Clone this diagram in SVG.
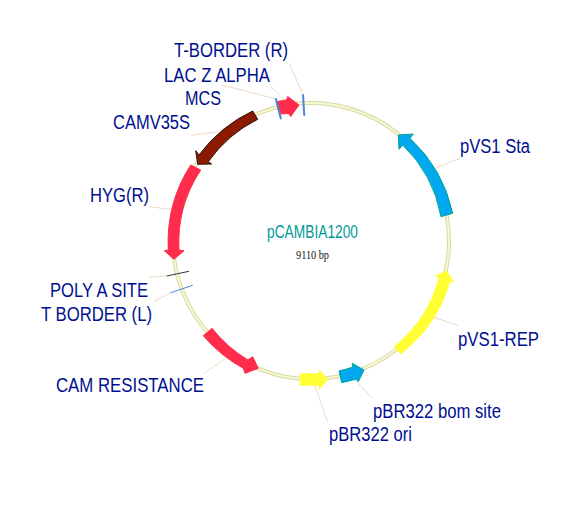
<svg xmlns="http://www.w3.org/2000/svg" width="572" height="508" viewBox="0 0 572 508">
<style>
.l{font-family:"Liberation Sans",Arial,sans-serif;font-size:20px;fill:#000f8f}
.ld{stroke:#f0d9c2;stroke-width:1;fill:none}
.red{fill:#ff2d4b;stroke:#ff2d4b;stroke-width:1}
.yel{fill:#ffff33;stroke:#ffff33;stroke-width:1}
.blu{fill:#00a8f0;stroke:#00a58c;stroke-width:1}
</style>
<rect width="572" height="508" fill="#fff"/>
<g id="plasmid-ring" fill="none">
<circle cx="311" cy="241" r="138" stroke="#d9d9a6" stroke-width="4"/>
<circle cx="311" cy="241" r="138" stroke="#f8f8d2" stroke-width="2"/>
</g>
<g id="connectors">
<path class="ld" d="M289.3 63.3L302.3 93.3"/>
<path class="ld" d="M271 86.7L285 100"/>
<path class="ld" d="M221.7 85L276.7 99"/>
<path class="ld" d="M191.7 135.3L218.3 131.7"/>
<path class="ld" d="M149.3 206.7L170 209.3"/>
<path class="ld" d="M149.3 277.3L166.7 276"/>
<path class="ld" d="M153.3 301.7L170.7 292.7"/>
<path class="ld" d="M204.3 373.3L226.7 357.3"/>
<path class="ld" d="M327.7 422.3L315 386"/>
<path class="ld" d="M372 397.7L355.7 380.7"/>
<path class="ld" d="M458.3 325.7L434 317.3"/>
<path class="ld" d="M460 158.3L435.7 167.7"/>
</g>
<g id="lac-z-alpha"><path class="red" d="M277 101.5L286.5 100L287.7 96.5L299 105L290.7 116.5L288.5 113.5L280 114Z"/><text class="l" x="164" y="82" textLength="106" lengthAdjust="spacingAndGlyphs">LAC Z ALPHA</text></g>
<g id="t-border-r"><path d="M303 94.3L304.3 115.7" stroke="#4a86d8" stroke-width="2" fill="none"/><text class="l" x="174" y="57" textLength="114" lengthAdjust="spacingAndGlyphs">T-BORDER (R)</text></g>
<g id="mcs"><path d="M275.7 98.3L281 119.3" stroke="#4a86d8" stroke-width="2" fill="none"/><text class="l" x="185" y="105" textLength="36" lengthAdjust="spacingAndGlyphs">MCS</text></g>
<g id="camv35s"><path d="M252.7 111L257.7 119.3A132 132 0 0 0 208.3 161.7L211.7 164L197.7 164.3L195.7 150.7L199 155A143 143 0 0 1 252.7 111Z" fill="#8b1a00" stroke="#2a1208" stroke-width="1"/><text class="l" x="113" y="129" textLength="77" lengthAdjust="spacingAndGlyphs">CAMV35S</text></g>
<g id="hyg-r"><path class="red" d="M190.7 165L200.7 170A132 132 0 0 0 179 250L184 250.7L174 259.3L164.3 250.7L168.3 250A143 143 0 0 1 190.7 165Z"/><text class="l" x="90" y="202" textLength="59" lengthAdjust="spacingAndGlyphs">HYG(R)</text></g>
<g id="poly-a-site"><path d="M166.7 276L189 271.3" stroke="#333" stroke-width="1" fill="none"/><text class="l" x="50" y="297" textLength="98" lengthAdjust="spacingAndGlyphs">POLY A SITE</text></g>
<g id="t-border-l"><path d="M170.7 292.7L192.7 285.3" stroke="#4a86d8" stroke-width="1" fill="none"/><text class="l" x="41" y="321" textLength="111" lengthAdjust="spacingAndGlyphs">T BORDER (L)</text></g>
<g id="cam-resistance"><path class="red" d="M203.3 335.7L212 328.3A132 132 0 0 0 248 360L252.7 356.7L258.3 368.3L245 373.3L243.3 368.3A143 143 0 0 1 203.3 335.7Z"/><text class="l" x="56" y="392" textLength="148" lengthAdjust="spacingAndGlyphs">CAM RESISTANCE</text></g>
<g id="pbr322-ori"><path class="yel" d="M300.7 373.7L300 385L319.3 385.3L319.3 389.3L327.3 379.3L319.3 370L319.3 374Z"/><text class="l" x="329" y="441" textLength="83" lengthAdjust="spacingAndGlyphs">pBR322 ori</text></g>
<g id="pbr322-bom-site"><path class="blu" d="M339 371L341.7 382.7L356 379.3L358.3 381.7L364 370L352.3 363.3L352.7 367.3Z"/><text class="l" x="373" y="418" textLength="128" lengthAdjust="spacingAndGlyphs">pBR322 bom site</text></g>
<g id="pvs1-rep"><path class="yel" d="M394.3 346.7L400.7 354A143 143 0 0 0 450 281L453.7 282.3L446.7 271L435.7 276L439.3 277.3A132 132 0 0 1 394.3 346.7Z"/><text class="l" x="458" y="346" textLength="81" lengthAdjust="spacingAndGlyphs">pVS1-REP</text></g>
<g id="pvs1-sta"><path class="blu" d="M452.7 213.3L441 216.7A132 132 0 0 0 402.7 145L399 149.3L398.3 135L413.3 134L410 138.3A143 143 0 0 1 452.7 213.3Z"/><text class="l" x="460" y="153" textLength="70" lengthAdjust="spacingAndGlyphs">pVS1 Sta</text></g>
<g id="title"><text x="267" y="238" textLength="91" lengthAdjust="spacingAndGlyphs" font-family="Liberation Sans,Arial,sans-serif" font-size="19" fill="#009a9a">pCAMBIA1200</text>
<text x="296" y="259" textLength="33" lengthAdjust="spacingAndGlyphs" font-family="Liberation Serif,Times New Roman,serif" font-size="12" fill="#111">9110 bp</text></g>
</svg>
